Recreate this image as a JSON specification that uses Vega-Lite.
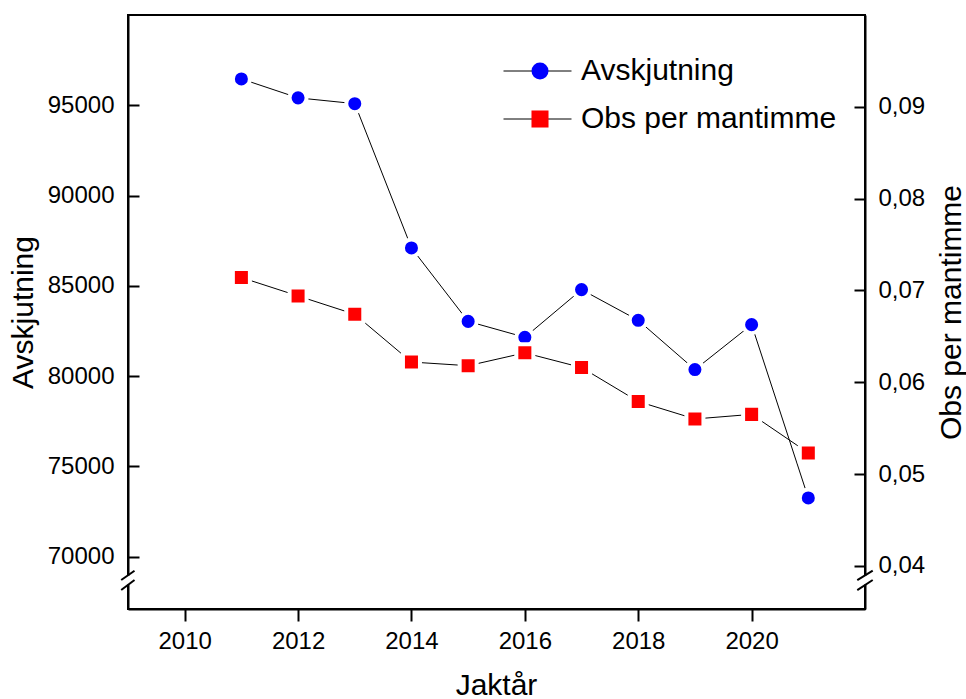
{
  "$schema": "https://vega.github.io/schema/vega-lite/v6.json",
  "width": 737,
  "height": 594,
  "autosize": {"type": "none"},
  "padding": {"left": 128, "top": 15, "right": 101, "bottom": 90},
  "background": "white",
  "config": {
    "view": {"stroke": "black", "strokeWidth": 2},
    "font": "Liberation Sans",
    "axis": {
      "grid": false,
      "domainColor": "black",
      "domainWidth": 2,
      "tickColor": "black",
      "tickWidth": 2,
      "labelColor": "black",
      "labelFont": "Liberation Sans",
      "labelFontSize": 24,
      "titleColor": "black",
      "titleFont": "Liberation Sans",
      "titleFontSize": 30,
      "titleFontWeight": "normal"
    }
  },
  "datasets": {
    "main": [
      {"year": 2011, "series": "Avskjutning", "value": 96460},
      {"year": 2012, "series": "Avskjutning", "value": 95410},
      {"year": 2013, "series": "Avskjutning", "value": 95090},
      {"year": 2014, "series": "Avskjutning", "value": 87100},
      {"year": 2015, "series": "Avskjutning", "value": 83030},
      {"year": 2016, "series": "Avskjutning", "value": 82150},
      {"year": 2017, "series": "Avskjutning", "value": 84790},
      {"year": 2018, "series": "Avskjutning", "value": 83090},
      {"year": 2019, "series": "Avskjutning", "value": 80360},
      {"year": 2020, "series": "Avskjutning", "value": 82850},
      {"year": 2021, "series": "Avskjutning", "value": 73250},
      {"year": 2011, "series": "Obs per mantimme", "value": 0.0714},
      {"year": 2012, "series": "Obs per mantimme", "value": 0.0694},
      {"year": 2013, "series": "Obs per mantimme", "value": 0.0674},
      {"year": 2014, "series": "Obs per mantimme", "value": 0.0622},
      {"year": 2015, "series": "Obs per mantimme", "value": 0.0618},
      {"year": 2016, "series": "Obs per mantimme", "value": 0.0632},
      {"year": 2017, "series": "Obs per mantimme", "value": 0.0616},
      {"year": 2018, "series": "Obs per mantimme", "value": 0.0579},
      {"year": 2019, "series": "Obs per mantimme", "value": 0.0560},
      {"year": 2020, "series": "Obs per mantimme", "value": 0.0565},
      {"year": 2021, "series": "Obs per mantimme", "value": 0.0523}
    ]
  },
  "layer": [
    {
      "layer": [
        {
          "data": {"name": "main"},
          "transform": [{"filter": "datum.series === 'Avskjutning'"}],
          "mark": {"type": "line", "strokeWidth": 1},
          "encoding": {
            "x": {
              "field": "year", "type": "quantitative",
              "scale": {"domain": [2009, 2022], "nice": false, "zero": false},
              "axis": {
                "title": "Jaktår",
                "values": [2010, 2012, 2014, 2016, 2018, 2020],
                "format": "d",
                "tickSize": 12,
                "labelPadding": 8,
                "labelFlush": false,
                "titleX": 368,
                "titleY": 85,
                "titleAlign": "center",
                "titleBaseline": "alphabetic"
              }
            },
            "y": {
              "field": "value", "type": "quantitative",
              "scale": {"domain": [67100, 100000], "nice": false, "zero": false},
              "axis": {
                "title": "Avskjutning",
                "orient": "left",
                "values": [70000, 75000, 80000, 85000, 90000, 95000],
                "format": "d",
                "tickSize": -11,
                "labelPadding": 25,
                "titleAngle": 270,
                "titleX": -96,
                "titleY": 297,
                "titleAlign": "center",
                "titleBaseline": "alphabetic"
              }
            },
            "stroke": {
              "field": "series", "type": "nominal",
              "scale": {"domain": ["Avskjutning", "Obs per mantimme"], "range": ["black", "black"]},
              "legend": {
                "title": null,
                "orient": "none",
                "legendX": 375,
                "legendY": 41,
                "padding": 0,
                "symbolType": "M-1,0H1",
                "symbolSize": 4624,
                "symbolStrokeColor": "black",
                "symbolStrokeWidth": 1,
                "labelExpr": "''",
                "labelOpacity": 0,
                "labelFont": "Liberation Sans",
                "labelFontSize": 30,
                "clipHeight": 30,
                "rowPadding": 18,
                "zindex": 1
              }
            }
          }
        },
        {
          "data": {"name": "main"},
          "transform": [{"filter": "datum.series === 'Avskjutning'"}],
          "mark": {"type": "point", "filled": true, "size": 290, "stroke": "white", "strokeWidth": 4, "opacity": 1},
          "encoding": {
            "x": {"field": "year", "type": "quantitative", "scale": {"domain": [2009, 2022], "nice": false, "zero": false}},
            "y": {"field": "value", "type": "quantitative", "scale": {"domain": [67100, 100000], "nice": false, "zero": false}},
            "fill": {
              "field": "series", "type": "nominal",
              "scale": {"range": ["#0000ff", "#ff0000"]},
              "legend": {
                "title": null,
                "orient": "none",
                "legendX": 397,
                "legendY": 41,
                "padding": 0,
                "symbolSize": 290,
                "symbolStrokeColor": "white",
                "symbolStrokeWidth": 4,
                "labelFont": "Liberation Sans",
                "labelFontSize": 30,
                "labelColor": "black",
                "labelOffset": 26,
                "labelLimit": 500,
                "clipHeight": 30,
                "rowPadding": 18,
                "zindex": 2,
                "encode": {"symbols": {"update": {"stroke": {"value": "white"}, "strokeWidth": {"value": 4}}}}
              }
            },
            "shape": {
              "field": "series", "type": "nominal",
              "scale": {"range": ["circle", "square"]},
              "legend": {
                "title": null,
                "orient": "none",
                "legendX": 397,
                "legendY": 41,
                "padding": 0,
                "symbolSize": 290,
                "symbolStrokeColor": "white",
                "symbolStrokeWidth": 4,
                "labelFont": "Liberation Sans",
                "labelFontSize": 30,
                "labelColor": "black",
                "labelOffset": 26,
                "labelLimit": 500,
                "clipHeight": 30,
                "rowPadding": 18,
                "zindex": 2,
                "encode": {"symbols": {"update": {"stroke": {"value": "white"}, "strokeWidth": {"value": 4}}}}
              }
            }
          }
        },
        {
          "data": {"values": [{}]},
          "mark": {"type": "rule", "color": "white", "strokeWidth": 5},
          "encoding": {
            "x": {"datum": 2009, "type": "quantitative", "scale": {"domain": [2009, 2022], "nice": false, "zero": false}},
            "y": {"datum": 68450, "type": "quantitative", "scale": {"domain": [67100, 100000], "nice": false, "zero": false}},
            "y2": {"datum": 68950}
          }
        },
        {
          "data": {"values": [{}]},
          "mark": {"type": "rule", "color": "white", "strokeWidth": 5},
          "encoding": {
            "x": {"datum": 2022, "type": "quantitative", "scale": {"domain": [2009, 2022], "nice": false, "zero": false}},
            "y": {"datum": 68450, "type": "quantitative", "scale": {"domain": [67100, 100000], "nice": false, "zero": false}},
            "y2": {"datum": 68950}
          }
        },
        {
          "data": {"values": [{}]},
          "mark": {"type": "rule", "color": "black", "strokeWidth": 2},
          "encoding": {
            "x": {"datum": 2008.88, "type": "quantitative", "scale": {"domain": [2009, 2022], "nice": false, "zero": false}},
            "x2": {"datum": 2009.115},
            "y": {"datum": 68705, "type": "quantitative", "scale": {"domain": [67100, 100000], "nice": false, "zero": false}},
            "y2": {"datum": 69220}
          }
        },
        {
          "data": {"values": [{}]},
          "mark": {"type": "rule", "color": "black", "strokeWidth": 2},
          "encoding": {
            "x": {"datum": 2008.88, "type": "quantitative", "scale": {"domain": [2009, 2022], "nice": false, "zero": false}},
            "x2": {"datum": 2009.115},
            "y": {"datum": 68150, "type": "quantitative", "scale": {"domain": [67100, 100000], "nice": false, "zero": false}},
            "y2": {"datum": 68705}
          }
        },
        {
          "data": {"values": [{}]},
          "mark": {"type": "rule", "color": "black", "strokeWidth": 2},
          "encoding": {
            "x": {"datum": 2021.864, "type": "quantitative", "scale": {"domain": [2009, 2022], "nice": false, "zero": false}},
            "x2": {"datum": 2022.136},
            "y": {"datum": 68705, "type": "quantitative", "scale": {"domain": [67100, 100000], "nice": false, "zero": false}},
            "y2": {"datum": 69220}
          }
        },
        {
          "data": {"values": [{}]},
          "mark": {"type": "rule", "color": "black", "strokeWidth": 2},
          "encoding": {
            "x": {"datum": 2021.864, "type": "quantitative", "scale": {"domain": [2009, 2022], "nice": false, "zero": false}},
            "x2": {"datum": 2022.136},
            "y": {"datum": 68150, "type": "quantitative", "scale": {"domain": [67100, 100000], "nice": false, "zero": false}},
            "y2": {"datum": 68705}
          }
        }
      ]
    },
    {
      "data": {"name": "main"},
      "transform": [{"filter": "datum.series === 'Obs per mantimme'"}],
      "layer": [
        {
          "mark": {"type": "line", "strokeWidth": 1, "color": "black"},
          "encoding": {
            "x": {"field": "year", "type": "quantitative", "scale": {"domain": [2009, 2022], "nice": false, "zero": false}},
            "y": {
              "field": "value", "type": "quantitative",
              "scale": {"domain": [0.0353, 0.1], "nice": false, "zero": false},
              "axis": {
                "title": "Obs per mantimme",
                "orient": "right",
                "values": [0.04, 0.05, 0.06, 0.07, 0.08, 0.09],
                "labelExpr": "replace(format(datum.value, '.2f'), '.', ',')",
                "tickSize": -11,
                "labelPadding": 24,
                "titleAngle": 270,
                "titleX": 95,
                "titleY": 297,
                "titleAlign": "center",
                "titleBaseline": "alphabetic"
              }
            }
          }
        },
        {
          "mark": {"type": "point", "filled": true, "size": 290, "stroke": "white", "strokeWidth": 4, "opacity": 1},
          "encoding": {
            "x": {"field": "year", "type": "quantitative", "scale": {"domain": [2009, 2022], "nice": false, "zero": false}},
            "y": {"field": "value", "type": "quantitative", "scale": {"domain": [0.0353, 0.1], "nice": false, "zero": false}},
            "fill": {"field": "series", "type": "nominal"},
            "shape": {"field": "series", "type": "nominal"}
          }
        }
      ]
    }
  ],
  "resolve": {"scale": {"y": "independent"}}
}
